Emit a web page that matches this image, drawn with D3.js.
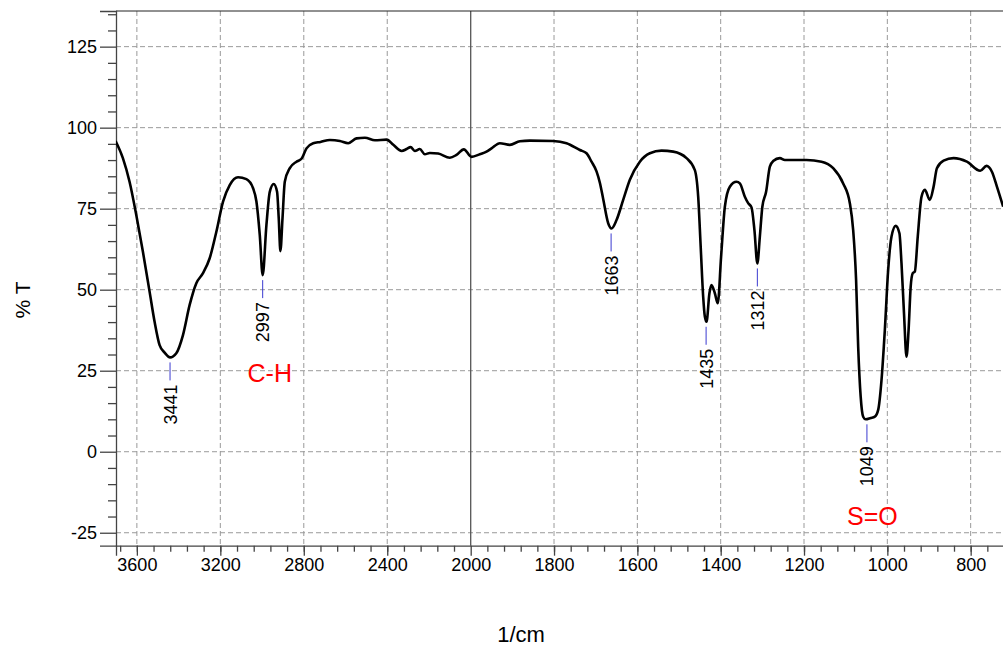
<!DOCTYPE html>
<html>
<head>
<meta charset="utf-8">
<script src="https://cdn.jsdelivr.net/npm/d3@7"></script>
<style>
  html, body { margin: 0; padding: 0; background: #fff; }
  svg { display: block; font-family: "Liberation Sans", Arial, sans-serif; }
</style>
</head>
<body>
<svg id="chart" width="1003" height="650"></svg>
<script>
// ---- data ----
const wavenumbers = [3702,3667,3635,3603,3571,3539,3515,3491,3467,3441,3411,3379,3347,3315,3283,3251,3219,3187,3155,3115,3075,3043,3027,3011,2997,2979,2963,2944,2928,2920,2912,2902,2891,2867,2835,2811,2787,2755,2720,2675,2627,2587,2547,2507,2459,2403,2371,2331,2307,2288,2268,2244,2220,2196,2156,2100,2068,2033,1998,1978,1962,1950,1930,1906,1882,1858,1802,1770,1738,1722,1710,1698,1690,1682,1670,1662,1650,1634,1618,1594,1570,1542,1514,1482,1462,1454,1448,1442,1438,1434,1427,1422,1414,1407,1399,1390,1378,1362,1354,1342,1334,1326,1319,1312,1306,1300,1291,1282,1274,1258,1246,1194,1158,1130,1106,1090,1082,1075,1070,1064,1058,1052,1040,1030,1022,1014,1006,998,990,980,971,966,960,954,949,944,939,934,927,918,910,898,889,881,865,841,809,777,762,749,737,722];
const transmittance = [95.9,90.6,83.3,73.1,61.7,49.4,40.1,32.9,30.6,29.1,30.4,36.0,45.3,52.0,55.1,59.7,67.9,77.2,82.3,84.7,84.1,81.3,77.2,66.9,54.5,70.0,80.2,82.6,80.2,72.0,61.9,72.0,83.3,87.5,89.5,90.4,93.6,95.2,95.6,96.2,95.9,95.2,96.7,96.9,96.1,96.3,94.7,92.8,93.4,94.0,92.8,93.4,91.8,92.2,92.0,90.7,91.6,93.3,91.0,91.8,92.6,93.6,95.2,94.7,95.8,96.0,95.9,95.2,93.1,92.1,89.5,86.5,83.0,78.0,70.5,68.9,71.5,77.7,83.9,89.5,92.1,92.9,92.6,90.6,86.9,78.7,63.3,47.8,41.7,40.1,48.9,51.4,48.9,45.8,60.2,75.6,81.8,83.3,82.8,78.7,76.7,75.4,68.4,58.1,66.4,75.6,80.2,88.0,89.7,90.6,90.0,90.0,89.5,87.5,82.8,76.7,68.4,53.0,32.4,17.0,10.8,10.0,10.4,10.8,12.9,22.1,37.6,56.1,66.4,69.7,67.4,58.1,42.7,29.3,37.6,50.9,55.1,55.6,66.4,78.7,80.8,77.7,81.8,87.5,89.8,90.6,89.5,86.7,88.2,86.4,81.8,75.6];

const xTicks = [3600,3200,2800,2400,2000,1800,1600,1400,1200,1000,800];
const yTicks = [-25,0,25,50,75,100,125];

const peakWn = [3441,2997,1663,1435,1312,1049];
const peakT  = [29.1,54.5,68.9,40.1,58.1,10.0];

const annText = ["C-H","S=O"];
const annWn   = [2963,1036];
const annT    = [21.5,-22.5];

// ---- layout ----
const svg = d3.select("#chart");
const L = 116, R = 1004, T = 11, B = 545.7;

const x = d3.scaleLinear().domain([3700, 2000, 720]).range([L, 470.7, R]);
const y = d3.scaleLinear().domain([-29, 136]).range([B, T]);

const g = svg.append("g");

// gridlines
g.append("g").selectAll("line").data(yTicks).join("line")
  .attr("x1", L).attr("x2", R).attr("y1", d => y(d)).attr("y2", d => y(d))
  .attr("stroke", "#9a9a9a").attr("stroke-width", 1).attr("stroke-dasharray", "5,3");
g.append("g").selectAll("line").data(xTicks.filter(d => d !== 2000)).join("line")
  .attr("x1", d => x(d)).attr("x2", d => x(d)).attr("y1", T).attr("y2", B)
  .attr("stroke", "#9a9a9a").attr("stroke-width", 1).attr("stroke-dasharray", "5,3");
// solid divider at 2000
g.append("line").attr("x1", x(2000)).attr("x2", x(2000)).attr("y1", T).attr("y2", B)
  .attr("stroke", "#555").attr("stroke-width", 1.3);

// frame: top line
g.append("line").attr("x1", L).attr("x2", R).attr("y1", T).attr("y2", T)
  .attr("stroke", "#222").attr("stroke-width", 1);

// minor tick values
const xMinor = [];
for (let v = 2080; v <= 3700; v += 80) xMinor.push(v);
for (let v = 1960; v >= 720; v -= 40) xMinor.push(v);
const yMinor = [];
for (let v = -25; v <= 135; v += 5) if (v % 25 !== 0) yMinor.push(v);

const fmt = d => String(d);

// y axis
const yAxis = d3.axisLeft(y).tickValues(yTicks).tickSize(16).tickPadding(3).tickFormat(fmt);
const yA = svg.append("g").attr("transform", `translate(${L},0)`).call(yAxis);
yA.select(".domain").attr("stroke", "#444").attr("stroke-width", 1.3);
yA.selectAll(".tick line").attr("stroke", "#444").attr("stroke-width", 1.3);
yA.selectAll("text").attr("font-size", 18).attr("fill", "#000").attr("font-family", "Liberation Sans, Arial, sans-serif");
svg.append("g").attr("transform", `translate(${L},0)`)
  .call(d3.axisLeft(y).tickValues(yMinor).tickSize(8).tickFormat(""))
  .call(s => s.select(".domain").remove())
  .selectAll("line").attr("stroke", "#444").attr("stroke-width", 1.3);

// x axis
const xAxis = d3.axisBottom(x).tickValues(xTicks).tickSize(10).tickPadding(3).tickFormat(fmt);
const xA = svg.append("g").attr("transform", `translate(0,${B})`).call(xAxis);
xA.select(".domain").attr("stroke", "#444").attr("stroke-width", 1.3);
xA.selectAll(".tick line").attr("stroke", "#444").attr("stroke-width", 1.3);
xA.selectAll("text").attr("font-size", 18).attr("fill", "#000").attr("font-family", "Liberation Sans, Arial, sans-serif");
svg.append("g").attr("transform", `translate(0,${B})`)
  .call(d3.axisBottom(x).tickValues(xMinor).tickSize(6).tickFormat(""))
  .call(s => s.select(".domain").remove())
  .selectAll("line").attr("stroke", "#444").attr("stroke-width", 1.3);

// clip
svg.append("clipPath").attr("id", "clip").append("rect")
  .attr("x", L).attr("y", T).attr("width", R - L).attr("height", B - T);

// spectrum
const pts = wavenumbers.map((w, i) => [w, transmittance[i]]);
const line = d3.line().x(d => x(d[0])).y(d => y(d[1])).curve(d3.curveMonotoneX);
svg.append("path").datum(pts).attr("clip-path", "url(#clip)")
  .attr("d", line).attr("fill", "none").attr("stroke", "#000")
  .attr("stroke-width", 2.6).attr("stroke-linejoin", "round");

// peak labels
const pk = svg.append("g");
peakWn.forEach((w, i) => {
  const px = x(w), py = y(peakT[i]);
  pk.append("line").attr("x1", px).attr("x2", px).attr("y1", py + 5).attr("y2", py + 23)
    .attr("stroke", "#3a3ad0").attr("stroke-width", 1);
  pk.append("text")
    .attr("transform", `translate(${px + 6.5},${py + 27}) rotate(-90)`)
    .attr("text-anchor", "end").attr("font-size", 18).attr("fill", "#000")
    .text(w);
});

// annotations
annText.forEach((t, i) => {
  svg.append("text").attr("x", x(annWn[i])).attr("y", y(annT[i]))
    .attr("text-anchor", "middle").attr("font-size", 25).attr("fill", "#ff0000").text(t);
});

// axis titles
svg.append("text").attr("x", 521).attr("y", 642).attr("text-anchor", "middle")
  .attr("font-size", 22).attr("fill", "#000").text("1/cm");
svg.append("text").attr("transform", "translate(30,300) rotate(-90)")
  .attr("text-anchor", "middle").attr("font-size", 21).attr("fill", "#000").text("% T");
</script>
</body>
</html>
